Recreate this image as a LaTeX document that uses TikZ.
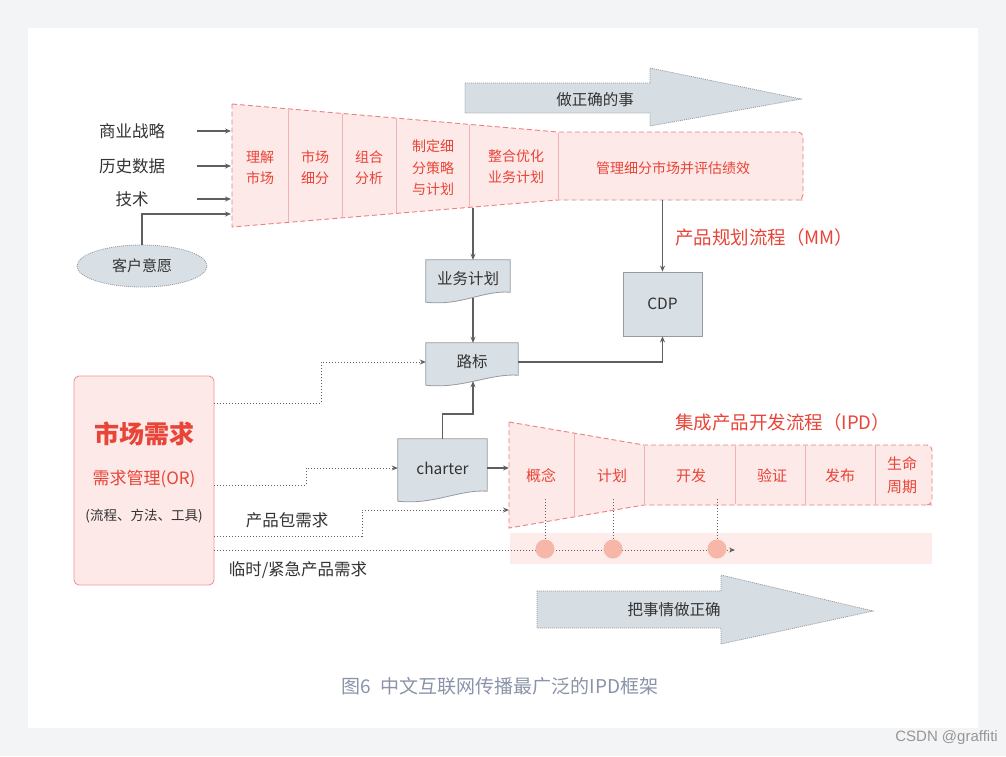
\documentclass[tikz,border=0pt]{standalone}
\usepackage{fontspec}
\setmainfont{Noto Sans CJK SC}
\newfontfamily\csdnfont{Liberation Sans}
\usetikzlibrary{shapes.geometric,calc,arrows.meta}
\pgfdeclarelayer{back}
\pgfsetlayers{back,main}
\definecolor{bgout}{RGB}{243,244,246}
\definecolor{redtxt}{RGB}{232,68,56}
\definecolor{pinkfill}{RGB}{253,233,231}
\definecolor{pinkline}{RGB}{234,128,128}
\definecolor{pinkdiv}{RGB}{240,178,178}
\definecolor{mkline}{RGB}{243,150,150}
\definecolor{graybox}{RGB}{216,223,229}
\definecolor{grayline}{RGB}{150,155,160}
\definecolor{darktxt}{RGB}{51,51,51}
\definecolor{conn}{RGB}{95,95,95}
\definecolor{circ}{RGB}{247,183,168}
\definecolor{band}{RGB}{253,236,234}
\definecolor{captxt}{RGB}{138,148,168}
\definecolor{arrfill}{RGB}{214,221,227}
\definecolor{csdn}{RGB}{150,150,150}
\tikzset{
  arr/.style={draw=conn, line width=1.1pt, -{Stealth[length=6pt,width=5pt]}},
  dotarr/.style={draw=conn, line width=1pt, dash pattern=on 1.2pt off 1.8pt, -{Stealth[length=6pt,width=5pt]}},
  vdot/.style={draw=conn, line width=1pt, dash pattern=on 1.2pt off 1.8pt},
  funnel/.style={fill=pinkfill, draw=pinkline, line width=0.9pt, dash pattern=on 5pt off 3pt},
  div/.style={draw=pinkdiv, line width=0.9pt},
  docbox/.style={fill=graybox, draw=grayline, line width=0.8pt},
  bigarrow/.style={fill=arrfill, draw=grayline, line width=0.8pt, dash pattern=on 1pt off 1pt},
  lbl/.style={font=\fontsize{16.5}{20}\selectfont, text=darktxt, inner sep=0pt},
  cell/.style={font=\fontsize{14}{21.5}\selectfont, text=redtxt, align=center, inner sep=0pt},
  ipdcell/.style={font=\fontsize{15}{23}\selectfont, text=redtxt, align=center, inner sep=0pt},
  boxtxt/.style={font=\fontsize{15.5}{18}\selectfont, text=darktxt, inner sep=0pt},
  title/.style={font=\fontsize{18.5}{22}\selectfont, text=redtxt, inner sep=0pt, anchor=west},
  dot/.style={circle, fill=circ, minimum size=19pt, inner sep=0pt}
}
\newcommand\docshape[1]{\begin{pgfonlayer}{back}\filldraw[docbox] (#1.north west) -- (#1.north east) -- ($(#1.south east)+(0,-6)$) .. controls ($(#1.south east)+(-28,-8)$) and ($(#1.south west)+(36,8)$) .. ($(#1.south west)+(0,4)$) -- cycle;\end{pgfonlayer}}
\begin{document}
\begin{tikzpicture}[x=1pt,y=-1pt]
\useasboundingbox (0,0) rectangle (1006,756);
\begin{pgfonlayer}{back}
\fill[bgout] (0,0) rectangle (1006,756);
\fill[white] (28,28) rectangle (978,728);
\end{pgfonlayer}

% top big arrow
\draw[bigarrow] (465,83) -- (650,83) -- (650,68) -- (801,99) -- (650,126) -- (650,113) -- (465,113) -- cycle;
\node[boxtxt] (t1) at (595,100) {做正确的事};

% top funnel
\draw[funnel] (232,104) -- (558,132) -- (798,132) [rounded corners=5pt] -- (803,132) -- (803,200) -- (798,200) [sharp corners] -- (558,200) -- (232,227) -- cycle;
\draw[div] (288,109.5) -- (288,221.5);
\draw[div] (342,114) -- (342,217);
\draw[div] (396,119) -- (396,212.5);
\draw[div] (469,125) -- (469,206.5);
\draw[div] (558,133) -- (558,199);
\node[cell] (f1) at (260,167.5) {理解\\市场};
\node[cell] (f2) at (315,167.5) {市场\\细分};
\node[cell] (f3) at (369,167.5) {组合\\分析};
\node[cell] (f4) at (433,168) {制定细\\分策略\\与计划};
\node[cell] (f5) at (516,166.5) {整合优化\\业务计划};
\node[cell] (f6) at (673,168) {管理细分市场并评估绩效};

% left inputs
\node[lbl] (s1) at (132,131) {商业战略};
\node[lbl] (s2) at (132,166) {历史数据};
\node[lbl] (s3) at (132,199) {技术};
\coordinate (a1) at (197,131); \coordinate (b1) at (231,131);
\coordinate (a2) at (197,166); \coordinate (b2) at (231,166);
\coordinate (a3) at (197,199); \coordinate (b3) at (231,199);
\coordinate (b4) at (231,214);
\draw[arr] (a1) -- (b1);
\draw[arr] (a2) -- (b2);
\draw[arr] (a3) -- (b3);
\node[ellipse, draw=grayline, fill=graybox, line width=0.8pt, dash pattern=on 1pt off 1pt, minimum width=130pt, minimum height=42pt, inner sep=0pt, font=\fontsize{15}{18}\selectfont, text=darktxt] (ky) at (142,266) {客户意愿};
\draw[arr] (ky.north) |- (b4);

% titles
\node[title] (mmT) at (675,237) {产品规划流程（MM）};
\node[title] (ipdT) at (675,422) {集成产品开发流程（IPD）};

% gray boxes
\node[boxtxt, minimum width=84pt, minimum height=38pt] (bp) at (468,279) {业务计划};
\docshape{bp}
\node[boxtxt, minimum width=92pt, minimum height=38pt] (lb) at (472,362) {路标};
\docshape{lb}
\node[boxtxt, minimum width=89pt, minimum height=58pt] (ch) at (442.5,468) {charter};
\docshape{ch}
\node[boxtxt, draw=grayline, fill=graybox, line width=0.8pt, minimum width=79pt, minimum height=64pt] (cdp) at (662.5,304) {CDP};

\coordinate (fA) at (473,208);
\coordinate (fB) at (662.5,200);
\coordinate (cm) at (473,414);
\draw[arr] (fA) -- (fA |- bp.north);
\draw[arr] (fA |- bp.south) -- (fA |- lb.north);
\draw[arr] (fB) -- (cdp.north);
\draw[arr] (lb.east) -| (cdp.south);
\draw[arr] (ch.north) |- (cm) -- (cm |- lb.south);

% IPD funnel
\fill[band] (510,533) rectangle (932,564);
\draw[funnel] (509,422) -- (644,445) -- (927,445) [rounded corners=5pt] -- (932,445) -- (932,505) -- (927,505) [sharp corners] -- (644,505) -- (509,528) -- cycle;
\draw[div] (574,434) -- (574,516);
\draw[div] (644,446) -- (644,504);
\draw[div] (735,446) -- (735,504);
\draw[div] (805,446) -- (805,504);
\draw[div] (875,446) -- (875,504);
\node[ipdcell] (g1) at (541,476) {概念};
\node[ipdcell] (g2) at (612,476) {计划};
\node[ipdcell] (g3) at (691,476) {开发};
\node[ipdcell] (g4) at (772,476) {验证};
\node[ipdcell] (g5) at (840,476) {发布};
\node[ipdcell] (g6) at (902,475.5) {生命\\周期};
\coordinate (ipdB) at (509,468);
\coordinate (ipdA) at (509,510);
\draw[arr] (ch.east) -- (ipdB);

% market box
\node[draw=mkline, fill=pinkfill, line width=0.9pt, rounded corners=5pt, minimum width=140pt, minimum height=209pt] (mk) at (144,480.5) {};
\node[font=\bfseries\fontsize{25}{28}\selectfont, text=redtxt, inner sep=0pt] (mk1) at (144,434) {市场需求};
\node[font=\fontsize{17}{20}\selectfont, text=redtxt, inner sep=0pt] (mk2) at (144,479) {需求管理(OR)};
\node[font=\fontsize{13.5}{16}\selectfont, text=darktxt, inner sep=0pt] (mk3) at (144,516) {(流程、方法、工具)};

\coordinate (m1) at (214,403);
\coordinate (m2) at (214,485);
\coordinate (m3) at (214,536);
\coordinate (m4) at (214,550);
\coordinate (bandE) at (735,550);
\draw[dotarr] (m1) -- (321,403) |- (lb.west);
\draw[dotarr] (m2) -- (306,485) |- (ch.west);
\draw[dotarr] (m3) -- (362,536) |- (ipdA);
\draw[dotarr] (m4) -- (bandE);
\node[lbl] (pk) at (287,520) {产品包需求};
\node[lbl] (ls) at (298,570) {临时/紧急产品需求};

% milestones
\node[dot] (c1) at (545,549) {};
\node[dot] (c2) at (613,549) {};
\node[dot] (c3) at (717,549) {};
\coordinate (d1) at (545,499);
\coordinate (d2) at (613,499);
\coordinate (d3) at (717,499);
\draw[vdot] (d1) -- (c1.north);
\draw[vdot] (d2) -- (c2.north);
\draw[vdot] (d3) -- (c3.north);

% bottom big arrow
\draw[bigarrow] (537,591) -- (721,591) -- (721,575) -- (873,611) -- (721,644) -- (721,628) -- (537,628) -- cycle;
\node[boxtxt] (t2) at (674,610) {把事情做正确};

% caption
\node[font=\fontsize{19}{22}\selectfont, text=captxt, inner sep=0pt] (cap) at (500,686) {图6\hspace{0.5em}中文互联网传播最广泛的IPD框架};
\node[font=\csdnfont\fontsize{15}{18}\selectfont, text=csdn, inner sep=0pt, anchor=east] (csdnT) at (998,738) {CSDN @graffiti};
\end{tikzpicture}
\end{document}
